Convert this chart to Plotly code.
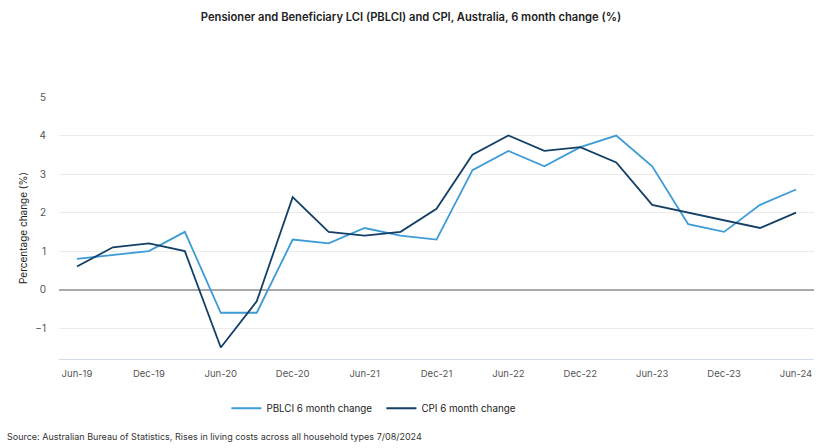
import plotly.graph_objects as go

quarters = ["Jun-19", "Sep-19", "Dec-19", "Mar-20", "Jun-20", "Sep-20", "Dec-20", "Mar-21",
            "Jun-21", "Sep-21", "Dec-21", "Mar-22", "Jun-22", "Sep-22", "Dec-22", "Mar-23",
            "Jun-23", "Sep-23", "Dec-23", "Mar-24", "Jun-24"]
pblci = [0.8, 0.9, 1.0, 1.5, -0.6, -0.6, 1.3, 1.2, 1.6, 1.4, 1.3, 3.1, 3.6, 3.2, 3.7, 4.0,
         3.2, 1.7, 1.5, 2.2, 2.6]
cpi = [0.6, 1.1, 1.2, 1.0, -1.5, -0.3, 2.4, 1.5, 1.4, 1.5, 2.1, 3.5, 4.0, 3.6, 3.7, 3.3,
       2.2, 2.0, 1.8, 1.6, 2.0]
tick_labels = quarters[::2]
y_ticks = [-1, 0, 1, 2, 3, 4, 5]

FONT = "Inter, Roboto, sans-serif"

fig = go.Figure()
fig.add_trace(go.Scatter(x=quarters, y=pblci, mode="lines", name="PBLCI 6 month change",
                         line=dict(color="#3d9bd6", width=1.8)))
fig.add_trace(go.Scatter(x=quarters, y=cpi, mode="lines", name="CPI 6 month change",
                         line=dict(color="#143f66", width=1.8)))

fig.update_layout(
    width=822, height=448,
    margin=dict(l=59, r=8, t=97, b=89),
    paper_bgcolor="white", plot_bgcolor="white",
    font=dict(family=FONT, color="#333"),
    title=dict(text="Pensioner and Beneficiary LCI (PBLCI) and CPI, Australia, 6 month change (%)",
               x=0.5, xanchor="center", y=0.962, yanchor="middle",
               font=dict(size=11.2, color="#222", family=FONT, weight=600)),
    showlegend=True,
    legend=dict(orientation="h", x=0.427, xanchor="center", y=-0.188, yanchor="middle",
                font=dict(size=9.8, color="#222"), itemwidth=30, tracegroupgap=0,
                entrywidth=110),
    annotations=[dict(text="Source: Australian Bureau of Statistics, Rises in living costs across all household types 7/08/2024",
                      xref="paper", yref="paper", x=-54/755, xanchor="left",
                      y=-(437-359)/262.5, yanchor="middle", showarrow=False,
                      font=dict(size=9, color="#333"))],
)
fig.update_xaxes(type="category", range=[-0.5, 20.5], tickmode="array", tickvals=tick_labels,
                 ticktext=tick_labels,
                 showgrid=False, showline=True, linecolor="#d4dde8", linewidth=1,
                 ticks="", tickfont=dict(size=9.5, color="#555"), ticklabelstandoff=6)
fig.update_yaxes(range=[-1.8, 5.0], tickvals=y_ticks, showgrid=True, gridcolor="#ebebeb",
                 gridwidth=1, zeroline=True, zerolinecolor="#a9a9a9", zerolinewidth=1.5,
                 showline=False, ticks="", tickfont=dict(size=10, color="#555"),
                 ticklabelstandoff=12,
                 title=dict(text="Percentage change (%)", font=dict(size=10, color="#222"),
                            standoff=5))

fig.write_html("out.html", config={"displayModeBar": False},
               post_script="document.body.style.margin='0';")
